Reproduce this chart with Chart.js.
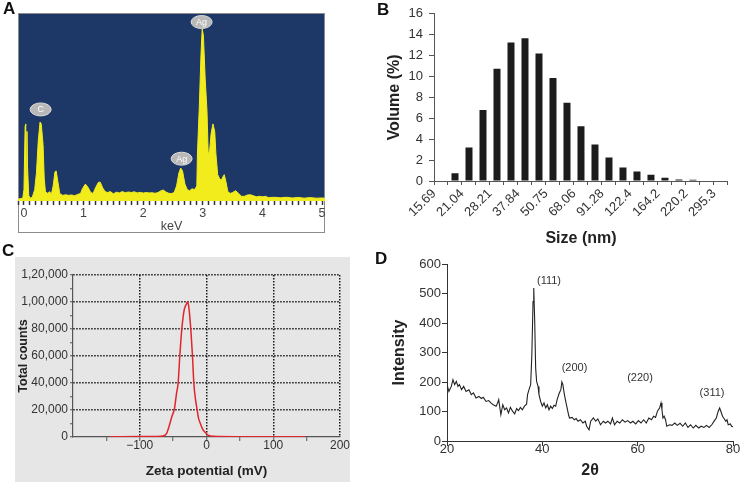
<!DOCTYPE html>
<html>
<head>
<meta charset="utf-8">
<script src="https://cdn.jsdelivr.net/npm/chart.js@4.4.1/dist/chart.umd.min.js"></script>
<style>
body { margin: 0; background: #fff; font-family: "Liberation Sans", Arial, sans-serif; }
#page { position: relative; width: 740px; height: 483px; overflow: hidden; }
canvas { position: absolute; }
.letter { position: absolute; font-weight: bold; font-size: 17px; color: #111; line-height: 17px; }
</style>
</head>
<body>
<div id="page">
  <div style="position:absolute;left:15px;top:257px;width:335px;height:225px;background:#e6e6e6"></div>
  <canvas id="chartA" width="340" height="240" style="left:0;top:0"></canvas>
  <canvas id="chartC" width="360" height="243" style="left:0;top:240px"></canvas>
  <canvas id="chartD" width="370" height="243" style="left:370px;top:240px"></canvas>
  <canvas id="chartB" width="380" height="250" style="left:360px;top:0"></canvas>
  <div class="letter" style="left:3px;top:0px">A</div>
  <div class="letter" style="left:377px;top:1px">B</div>
  <div class="letter" style="left:2px;top:242px">C</div>
  <div class="letter" style="left:375px;top:250px">D</div>
</div>
<script>
// A: EDS spectrum (relative counts, 0-100)
var edsKeV = [-0.10, -0.02, 0.00, 0.02, 0.03, 0.04, 0.05, 0.06, 0.08, 0.10, 0.14, 0.18, 0.21, 0.24, 0.27, 0.29,
  0.32, 0.34, 0.36, 0.40, 0.43, 0.46, 0.49, 0.52, 0.54, 0.57, 0.60, 0.65, 0.70, 0.75, 0.80, 0.85, 0.90, 0.95,
  0.98, 1.03, 1.07, 1.12, 1.16, 1.20, 1.25, 1.28, 1.32, 1.36, 1.40, 1.45, 1.50, 1.55, 1.60, 1.65, 1.70, 1.75,
  1.80, 1.85, 1.90, 1.95, 2.00, 2.05, 2.10, 2.15, 2.20, 2.25, 2.30, 2.34, 2.38, 2.42, 2.47, 2.52, 2.56, 2.60,
  2.63, 2.66, 2.70, 2.74, 2.78, 2.82, 2.86, 2.90, 2.91, 2.94, 2.97, 2.99, 3.01, 3.04, 3.07, 3.09, 3.11, 3.14,
  3.17, 3.20, 3.22, 3.25, 3.28, 3.31, 3.34, 3.36, 3.39, 3.42, 3.46, 3.50, 3.55, 3.60, 3.65, 3.70, 3.75, 3.80,
  3.85, 3.90, 3.95, 4.00, 4.05, 4.10, 4.20, 4.30, 4.40, 4.50, 4.60, 4.70, 4.80, 4.90, 5.00, 5.05];
var edsCounts = [1.0, 1.5, 6, 40, 41, 14, 37, 18, 3, 1.5, 2, 6, 15, 32, 42, 41,
  30, 12, 5, 4, 5, 3.5, 8, 15.5, 16, 10, 4, 3, 3.3, 3, 3.2, 2.8, 3.5, 4,
  6.5, 9, 7.5, 4.5, 4, 7, 10, 10, 7, 5, 4.5, 5, 3.8, 4.7, 4.3, 5, 4.4, 4.8,
  4.5, 4.9, 4.3, 4.6, 4.2, 4.5, 4.3, 4.4, 4.1, 4.5, 5.5, 5.8, 4.8, 4.2, 3.9, 4.5, 8, 15,
  17.5, 16, 9, 6, 5.5, 6.5, 6, 8, 25, 49, 78, 91.5, 88, 65, 48, 26, 25, 36,
  41, 37, 25, 14, 12, 11, 13, 14, 10, 5, 4, 4.5, 5.5, 4, 2.5, 2.5, 3.2, 3.3,
  2.8, 2.2, 2.5, 2.2, 2.5, 1.8, 2, 1.7, 2, 1.6, 1.9, 1.5, 1.8, 1.5, 1.6, 1.5];
var edsTagText = ['C', 'Ag', 'Ag'];
var edsTagKeV = [0.28, 2.98, 2.645];
var edsTagY = [48.7, 95.2, 22.5];

// B: size distribution, one value per bin between the edges
var sizeLabels = ['15.69', '21.04', '28.21', '37.84', '50.75', '68.06', '91.28', '122.4', '164.2', '220.2', '295.3'];
var volumePct = [0, 0.75, 3.2, 6.8, 10.75, 13.25, 13.65, 12.2, 9.85, 7.5, 5.25, 3.5, 2.25, 1.3, 0.9, 0.6, 0.3, 0.15, 0.12, 0, 0];

// C: zeta potential
var zetaMv = [-145, -100, -75, -65, -60, -56, -52, -48, -45, -42.5, -40, -37, -35, -33.5, -32, -30, -28.6,
  -27, -25, -23, -21, -19, -16.5, -14, -12, -10, -6, -2.5, 3, 10, 50, 100, 148];
var zetaCounts = [200, 300, 400, 800, 2500, 8000, 15000, 21000, 32000, 40000, 60000, 80000, 89000, 94000, 96500, 98500, 100000,
  98000, 89000, 76000, 60000, 40000, 28000, 20000, 14000, 11000, 6000, 3700, 1200, 500, 200, 150, 100];
var zetaTickText = { '-100': '\u2212100', '0': '0', '100': '100', '200': '200' };
var countTickText = ['0', '20,000', '40,000', '60,000', '80,000', '1,00,000', '1,20,000'];

// D: XRD pattern
var twoTheta = [20.0, 20.4, 20.9, 21.25, 21.6, 21.95, 22.3, 22.6, 23.05, 23.5, 24.0, 24.6, 25.1, 25.55, 26.1, 26.7,
  27.2, 27.6, 28.2, 28.75, 29.2, 29.7, 30.3, 30.6, 30.85, 31.3, 31.7, 32.1, 32.5, 32.9, 33.3, 33.75, 34.2, 34.6,
  35.0, 35.4, 35.8, 36.25, 36.7, 36.9, 37.2, 37.55, 37.8, 38.05, 38.2, 38.4, 38.6, 38.8, 39.1, 39.3, 39.65, 40.0,
  40.35, 40.7, 41.05, 41.4, 41.75, 42.1, 42.45, 42.8, 43.1, 43.5, 43.9, 44.1, 44.3, 44.6, 44.9, 45.2, 45.5, 45.7,
  46.25, 46.7, 47.1, 47.5, 48.0, 48.5, 49.0, 49.3, 49.8, 50.15, 50.7, 51.2, 51.65, 52.2, 52.8, 53.25, 53.75, 54.3,
  54.7, 55.15, 55.7, 56.25, 56.8, 57.35, 57.9, 58.5, 59.0, 59.6, 60.15, 60.7, 61.25, 61.8, 62.35, 62.9, 63.35, 63.75,
  64.15, 64.6, 64.9, 65.1, 65.3, 65.55, 65.85, 66.1, 66.7, 67.2, 67.8, 68.3, 68.9, 69.45, 70.0, 70.55, 71.1, 71.65,
  72.2, 72.8, 73.3, 73.9, 74.45, 75.0, 75.55, 76.1, 76.5, 76.9, 77.2, 77.45, 77.8, 78.05, 78.5, 78.75, 79.0, 79.45,
  79.7, 80.0];
var intensity = [191, 168, 185, 208, 191, 202, 185, 191, 174, 185, 168, 174, 157, 163, 146, 151,
  144, 148, 134, 137, 129, 123, 118, 128, 140, 89, 123, 106, 112, 95, 114, 101, 92, 110,
  103, 114, 106, 118, 125, 157, 174, 191, 293, 473, 519, 406, 247, 202, 185, 157, 134, 118,
  129, 112, 123, 106, 118, 110, 121, 118, 140, 160, 175, 200, 192, 160, 135, 112, 89, 78,
  80, 72, 76, 67, 72, 61, 67, 50, 38, 67, 78, 67, 75, 55, 67, 61, 67, 58,
  78, 55, 67, 61, 72, 64, 69, 61, 67, 58, 69, 61, 72, 61, 78, 72, 84, 80,
  101, 112, 129, 106, 78, 84, 72, 50, 55, 53, 61, 53, 60, 50, 61, 46, 55, 44,
  53, 44, 50, 46, 53, 46, 55, 69, 78, 101, 112, 101, 84, 78, 67, 72, 55, 58,
  50, 48];
var peakTags = ['(111)', '(200)', '(220)', '(311)'];
var peakTagTheta = [41.4, 46.75, 60.5, 75.6];
var peakTagI = [543, 249, 215, 162];

Chart.defaults.font.family = '"Liberation Sans", Arial, sans-serif';
Chart.defaults.color = '#333';
Chart.defaults.animation = false;
Chart.defaults.plugins.legend.display = false;
Chart.defaults.plugins.tooltip.enabled = false;

function toPoints(xs, ys) {
    var pts = [];
    for (var i = 0; i < xs.length; i++) {
        pts.push({x: xs[i], y: ys[i]});
    }
    return pts;
}

function fixWidth(w) {
    return function(scale) { scale.width = w; };
}

function fixHeight(h) {
    return function(scale) { scale.height = h; };
}

function isWhole(v) {
    return Math.abs(v - Math.round(v)) < 1e-6;
}

// ---- A ----
var edsPlugin = {
    id: 'edsPlugin',
    beforeDraw: function(chart) {
        var ctx = chart.ctx, a = chart.chartArea, xs = chart.scales.x;
        ctx.save();
        ctx.fillStyle = '#1d3867';
        ctx.fillRect(a.left, a.top, a.right - a.left, a.bottom - a.top);
        ctx.strokeStyle = '#8c8c8c';
        ctx.lineWidth = 1;
        ctx.strokeRect(a.left + 0.5, a.top + 0.5, a.right - a.left - 1, xs.bottom - a.top - 1);
        ctx.restore();
    },
    afterDatasetsDraw: function(chart) {
        var ctx = chart.ctx, xs = chart.scales.x, ys = chart.scales.y;
        ctx.save();
        for (var i = 0; i < edsTagText.length; i++) {
            var px = xs.getPixelForValue(edsTagKeV[i]);
            var py = ys.getPixelForValue(edsTagY[i]);
            ctx.beginPath();
            ctx.ellipse(px, py, 10.5, 6.5, 0, 0, Math.PI * 2);
            ctx.fillStyle = '#b8b8b8';
            ctx.fill();
            ctx.strokeStyle = '#dcdcdc';
            ctx.lineWidth = 1;
            ctx.stroke();
            ctx.fillStyle = '#fff';
            ctx.font = '9px "Liberation Sans", Arial, sans-serif';
            ctx.textAlign = 'center';
            ctx.textBaseline = 'middle';
            ctx.fillText(edsTagText[i], px, py + 0.5);
        }
        ctx.restore();
    }
};

new Chart(document.getElementById('chartA'), {
    type: 'line',
    data: {
        datasets: [{
            data: toPoints(edsKeV, edsCounts),
            borderColor: '#f2ec1c',
            backgroundColor: '#f2ec1c',
            borderWidth: 1,
            fill: 'origin',
            pointRadius: 0,
            tension: 0
        }]
    },
    options: {
        responsive: false,
        layout: {padding: {left: 18, top: 13, right: 15, bottom: 7}},
        scales: {
            x: {
                type: 'linear', min: -0.1, max: 5.05,
                afterFit: fixHeight(32),
                grid: {drawOnChartArea: false, tickLength: 4, tickColor: '#333', tickWidth: 1.5},
                border: {display: false},
                ticks: {
                    stepSize: 0.1, includeBounds: false, autoSkip: false, maxRotation: 0, padding: 1,
                    font: {size: 12.5}, color: '#444',
                    callback: function(v) { return isWhole(v) ? String(Math.round(v)) : ''; }
                },
                title: {display: true, text: 'keV', font: {size: 12.5, lineHeight: 1}, color: '#444', padding: 0}
            },
            y: {display: false, min: 0, max: 100}
        }
    },
    plugins: [edsPlugin]
});

// ---- B ----
var binPoints = [];
for (var i = 0; i < volumePct.length; i++) {
    binPoints.push({x: i + 0.5, y: volumePct[i]});
}

new Chart(document.getElementById('chartB'), {
    type: 'bar',
    data: {
        datasets: [{
            data: binPoints,
            backgroundColor: '#1c1c1c',
            barPercentage: 0.5,
            categoryPercentage: 1
        }]
    },
    options: {
        responsive: false,
        layout: {padding: {left: 25, top: 10, right: 3, bottom: 2}},
        scales: {
            x: {
                type: 'linear', min: 0, max: volumePct.length, offset: false,
                afterFit: fixHeight(67),
                grid: {drawOnChartArea: false, offset: false, tickLength: 4, tickColor: '#555'},
                border: {color: '#555'},
                ticks: {
                    stepSize: 1, autoSkip: false, minRotation: 45, maxRotation: 45, padding: 1,
                    font: {size: 13}, color: '#333',
                    callback: function(v) {
                        if (v % 2 !== 0) return '';
                        return sizeLabels[v / 2] || '';
                    }
                },
                title: {display: true, text: 'Size (nm)', font: {size: 16, weight: 'bold'}, color: '#222', padding: 0}
            },
            y: {
                min: 0, max: 16,
                afterFit: fixWidth(49),
                grid: {drawOnChartArea: false, tickLength: 5, tickColor: '#555'},
                border: {color: '#555'},
                ticks: {stepSize: 2, padding: 6, font: {size: 13}, color: '#333'},
                title: {display: true, text: 'Volume (%)', font: {size: 16, weight: 'bold'}, color: '#222', padding: 0}
            }
        }
    }
});

// ---- C ----
new Chart(document.getElementById('chartC'), {
    type: 'line',
    data: {
        datasets: [{
            data: toPoints(zetaMv, zetaCounts),
            borderColor: '#e0262c',
            borderWidth: 1.5,
            pointRadius: 0,
            cubicInterpolationMode: 'monotone'
        }]
    },
    options: {
        responsive: false,
        layout: {padding: {left: 16, top: 35, right: 20, bottom: 4}},
        scales: {
            x: {
                type: 'linear', min: -200, max: 200,
                afterFit: fixHeight(42),
                grid: {
                    lineWidth: 1.5,
                    color: function(c) { return zetaTickText[String(c.tick.value)] ? '#1a1a1a' : 'rgba(0,0,0,0)'; },
                    tickColor: function(c) { return Math.abs(c.tick.value) === 200 ? 'rgba(0,0,0,0)' : '#555'; },
                    tickLength: 4, tickWidth: 1, tickBorderDash: []
                },
                border: {color: '#555', width: 1.2, dash: [1.5, 1.5]},
                ticks: {
                    stepSize: 50, autoSkip: false, maxRotation: 0, padding: -3,
                    font: {size: 12}, color: '#333',
                    callback: function(v) { return zetaTickText[String(v)] || ''; }
                },
                title: {display: true, text: 'Zeta potential (mV)', font: {size: 13.5, weight: 'bold'}, color: '#222', padding: 0}
            },
            y: {
                min: 0, max: 120000,
                afterFit: fixWidth(57),
                grid: {
                    lineWidth: 1.5,
                    color: function(c) { return c.tick.value > 0 && c.tick.value % 20000 === 0 ? '#1a1a1a' : 'rgba(0,0,0,0)'; },
                    tickColor: '#555', tickLength: 3, tickWidth: 1, tickBorderDash: []
                },
                border: {color: '#555', width: 1.2, dash: [1.5, 1.5]},
                ticks: {
                    stepSize: 10000, autoSkip: false, padding: 2,
                    font: {size: 12}, color: '#333',
                    callback: function(v) { return v % 20000 === 0 ? countTickText[v / 20000] : ''; }
                },
                title: {display: true, text: 'Total counts', font: {size: 12.5, weight: 'bold'}, color: '#222', padding: 0}
            }
        }
    }
});

// ---- D ----
var xrdTagPlugin = {
    id: 'xrdTagPlugin',
    afterDatasetsDraw: function(chart) {
        var ctx = chart.ctx, xs = chart.scales.x, ys = chart.scales.y;
        ctx.save();
        ctx.fillStyle = '#333';
        ctx.font = '11px "Liberation Sans", Arial, sans-serif';
        ctx.textAlign = 'center';
        ctx.textBaseline = 'middle';
        for (var i = 0; i < peakTags.length; i++) {
            ctx.fillText(peakTags[i], xs.getPixelForValue(peakTagTheta[i]), ys.getPixelForValue(peakTagI[i]));
        }
        ctx.restore();
    }
};

new Chart(document.getElementById('chartD'), {
    type: 'line',
    data: {
        datasets: [{
            data: toPoints(twoTheta, intensity),
            borderColor: '#222',
            borderWidth: 1.1,
            pointRadius: 0,
            tension: 0
        }]
    },
    options: {
        responsive: false,
        layout: {padding: {left: 20, top: 24, right: 7, bottom: 3}},
        scales: {
            x: {
                type: 'linear', min: 20, max: 80,
                afterFit: fixHeight(39),
                grid: {drawOnChartArea: false, tickLength: 5, tickColor: '#333'},
                border: {color: '#333'},
                ticks: {stepSize: 20, maxRotation: 0, padding: -4, font: {size: 13}, color: '#333'},
                title: {display: true, text: '2\u03b8', font: {size: 16, weight: 'bold'}, color: '#222', padding: 0}
            },
            y: {
                min: 0, max: 600,
                afterFit: fixWidth(57),
                grid: {drawOnChartArea: false, tickLength: 5, tickColor: '#333'},
                border: {color: '#333'},
                ticks: {stepSize: 100, padding: 1, font: {size: 13}, color: '#333'},
                title: {display: true, text: 'Intensity', font: {size: 16, weight: 'bold'}, color: '#222', padding: 0}
            }
        }
    },
    plugins: [xrdTagPlugin]
});
</script>
</body>
</html>
